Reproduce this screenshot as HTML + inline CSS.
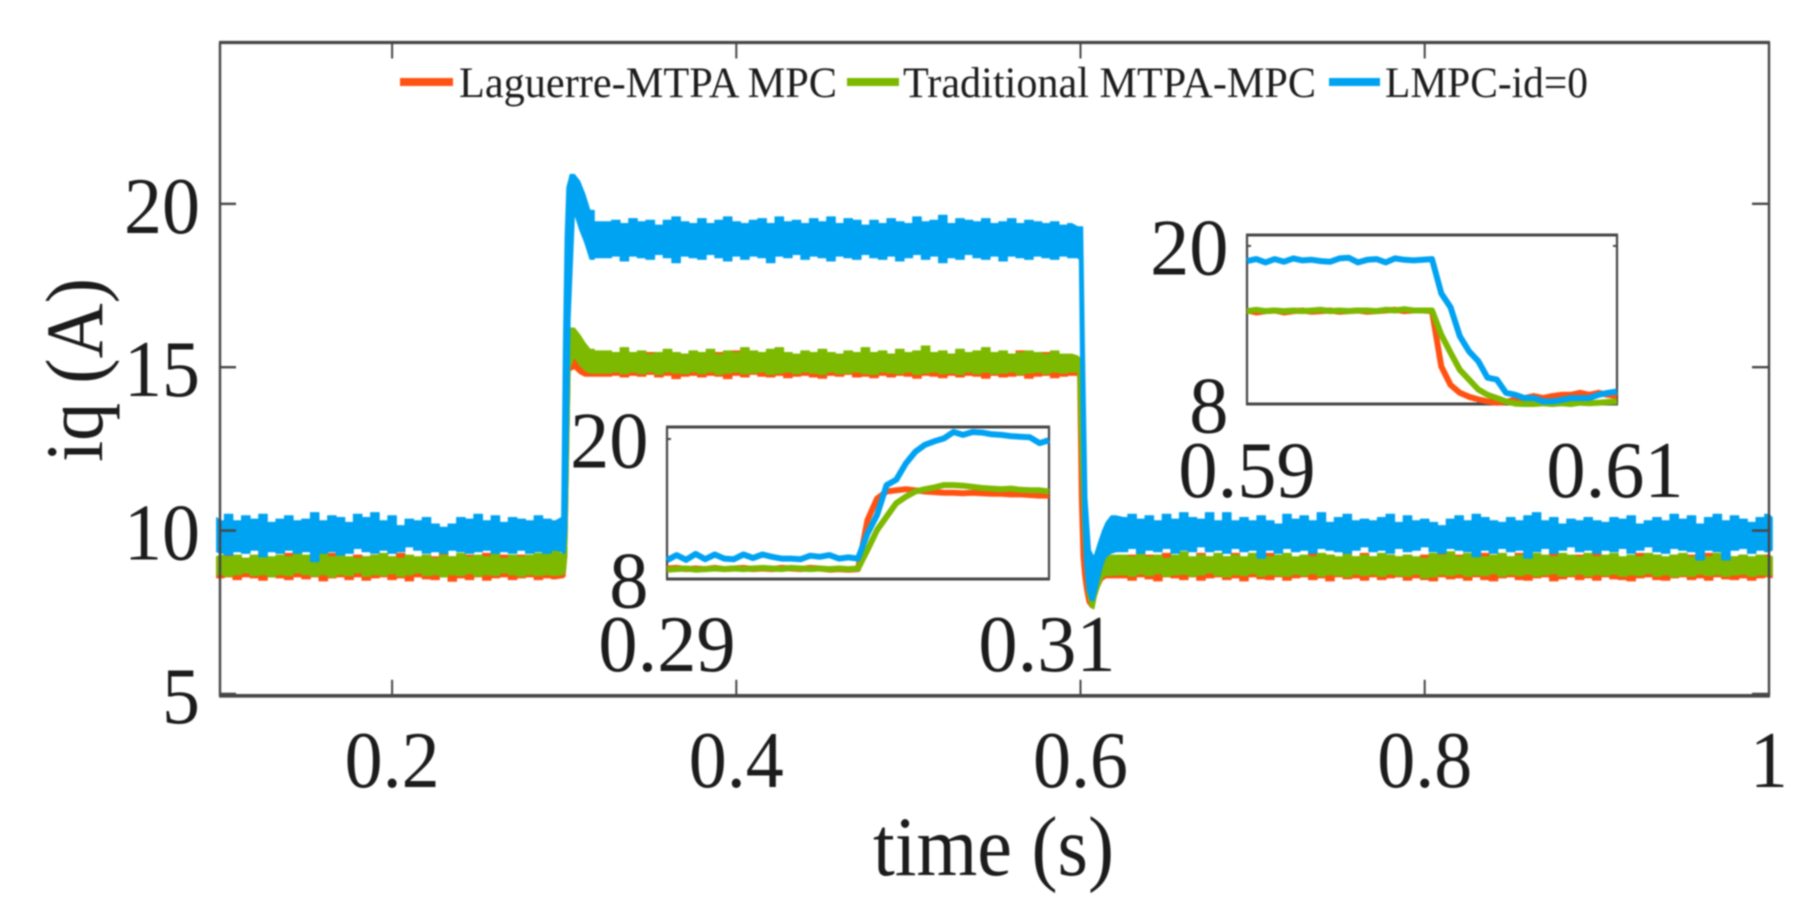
<!DOCTYPE html>
<html lang="en">
<head>
<meta charset="utf-8">
<title>iq current response chart</title>
<style>
html,body{margin:0;padding:0;background:#fff;width:1817px;height:920px;overflow:hidden}
svg{display:block;filter:blur(0.75px)}
text{font-family:"Liberation Serif","Times New Roman",serif;fill:#1c1c1c}
</style>
</head>
<body>
<svg id="chart" xmlns="http://www.w3.org/2000/svg" width="1817" height="920" viewBox="0 0 1817 920">
  <rect x="0" y="0" width="1817" height="920" fill="#fff"/>
  <g id="series-layer"></g>
  <g id="axes-layer"></g>
  <g id="inset-a"></g>
  <g id="inset-b"></g>
  <text transform="translate(102,462) rotate(-90)" font-size="82" textLength="184" lengthAdjust="spacingAndGlyphs">iq (A)</text>
  <text x="873" y="875" font-size="85" textLength="241" lengthAdjust="spacingAndGlyphs">time (s)</text>
  <g>
    <line x1="400" y1="82" x2="453" y2="82" stroke="#ff5212" stroke-width="8"/>
    <text x="459" y="97" font-size="43" textLength="378" lengthAdjust="spacingAndGlyphs">Laguerre-MTPA MPC</text>
    <line x1="847" y1="82" x2="899" y2="82" stroke="#7cb900" stroke-width="8"/>
    <text x="903" y="97" font-size="43" textLength="413" lengthAdjust="spacingAndGlyphs">Traditional MTPA-MPC</text>
    <line x1="1329" y1="82" x2="1380" y2="82" stroke="#00a2f2" stroke-width="8"/>
    <text x="1385" y="97" font-size="43" textLength="203" lengthAdjust="spacingAndGlyphs">LMPC-id=0</text>
  </g>
</svg>
<script>
const xTicks = [0.2, 0.4, 0.6, 0.8, 1];
const yTicks = [5, 10, 15, 20];
const xTickLabels = ['0.2', '0.4', '0.6', '0.8', '1'];
const yTickLabels = ['5', '10', '15', '20'];

const timeS = [
0.098,
.100,.105,.110,.115,.120,.125,.130,.135,.140,.145,
.150,.155,.160,.165,.170,.175,.180,.185,.190,.195,
.200,.205,.210,.215,.220,.225,.230,.235,.240,.245,
.250,.255,.260,.265,.270,.275,.280,.285,.290,.295,
.2985,.2995,.3005,.3015,.3035,.306,.309,.312,.315,.32,
.325,.330,.335,.340,.345,.350,.355,.360,.365,.370,.375,
.380,.385,.390,.395,.400,.405,.410,.415,.420,.425,.430,
.435,.440,.445,.450,.455,.460,.465,.470,.475,.480,.485,
.490,.495,.500,.505,.510,.515,.520,.525,.530,.535,.540,
.545,.550,.555,.560,.565,.570,.575,.580,.585,.590,.595,
.5983,.5993,.6003,.6013,.6023,.6038,.6058,.6078,.6093,.6108,.6128,.6148,.6178,.6208,
.625,.630,.635,.640,.645,.650,.655,.660,.665,.670,.675,
.680,.685,.690,.695,.700,.705,.710,.715,.720,.725,.730,
.735,.740,.745,.750,.755,.760,.765,.770,.775,.780,.785,
.790,.795,.800,.805,.810,.815,.820,.825,.830,.835,.840,
.845,.850,.855,.860,.865,.870,.875,.880,.885,.890,.895,
.900,.905,.910,.915,.920,.925,.930,.935,.940,.945,.950,
.955,.960,.965,.970,.975,.980,.985,.990,.995,1.0,1.002];

const blueHigh = [
10.4,
10.3,10.5,10.3,10.45,10.35,10.5,10.25,10.35,10.45,10.3,
10.35,10.55,10.3,10.45,10.4,10.25,10.5,10.4,10.55,10.3,
10.45,10.15,10.35,10.3,10.4,10.2,10.1,10.2,10.4,10.35,
10.5,10.3,10.45,10.25,10.4,10.35,10.3,10.45,10.35,10.3,
10.4,15.5,19,20.5,20.9,20.9,20.7,20.3,19.8,19.45,
19.45,19.5,19.4,19.55,19.45,19.5,19.35,19.5,19.6,19.45,19.4,
19.55,19.4,19.5,19.6,19.45,19.4,19.5,19.55,19.4,19.6,19.45,
19.5,19.4,19.55,19.45,19.6,19.4,19.55,19.5,19.35,19.5,19.4,
19.55,19.45,19.4,19.6,19.45,19.5,19.65,19.4,19.55,19.5,19.45,
19.55,19.4,19.45,19.55,19.4,19.5,19.45,19.4,19.45,19.35,19.4,
19.3,19.3,19.3,19.3,15.5,11,9.4,9.2,9.45,9.7,10,10.25,10.45,10.45,
10.4,10.5,10.35,10.45,10.3,10.5,10.35,10.55,10.4,10.35,10.55,
10.3,10.55,10.3,10.4,10.3,10.45,10.3,10.2,10.5,10.35,10.45,
10.3,10.55,10.25,10.4,10.5,10.3,10.35,10.3,10.4,10.5,10.25,
10.45,10.3,10.35,10.25,10.15,10.35,10.45,10.3,10.5,10.4,10.3,
10.25,10.4,10.3,10.45,10.55,10.3,10.4,10.2,10.35,10.3,10.4,
10.3,10.25,10.4,10.35,10.45,10.2,10.3,10.4,10.3,10.5,10.35,
10.45,10.2,10.4,10.5,10.3,10.45,10.35,10.25,10.4,10.5,10.4];

const blueLow = [
9.35,
9.3,9.25,9.35,9.3,9.4,9.2,9.35,9.3,9.4,9.3,
9.35,9.05,9.3,9.35,9.25,9.3,9.45,9.35,9.3,9.4,
9.3,9.35,9.5,9.4,9.3,9.35,9.3,9.4,9.35,9.3,
9.35,9.4,9.3,9.35,9.3,9.4,9.3,9.35,9.3,9.4,
9.35,9.3,9.3,10,16.5,19.7,19.2,18.8,18.3,18.35,
18.35,18.4,18.25,18.4,18.35,18.3,18.45,18.35,18.2,18.4,18.35,
18.3,18.45,18.35,18.25,18.4,18.3,18.4,18.35,18.2,18.4,18.35,
18.45,18.3,18.4,18.35,18.25,18.4,18.35,18.3,18.45,18.35,18.3,
18.4,18.25,18.35,18.45,18.3,18.4,18.2,18.35,18.3,18.45,18.35,
18.3,18.4,18.25,18.4,18.35,18.3,18.4,18.35,18.3,18.4,18.35,
18.35,18.3,14,10.5,9,8.2,7.85,7.85,8.15,8.5,8.9,9.2,9.3,9.35,
9.35,9.45,9.3,9.4,9.35,9.45,9.3,9.4,9.35,9.5,9.35,
9.4,9.3,9.45,9.35,9.4,9.15,9.4,9.3,9.45,9.35,9.4,
9.3,9.45,9.4,9.35,9.3,9.4,9.5,9.35,9.4,9.3,9.45,
9.35,9.4,9.5,9.35,9.3,9.45,9.4,9.35,9.2,9.4,9.3,
9.45,9.35,9.4,9.15,9.35,9.45,9.3,9.4,9.5,9.35,9.4,
9.3,9.4,9.35,9.45,9.3,9.4,9.5,9.35,9.3,9.45,9.4,
9.35,9.1,9.4,9.35,9.1,9.4,9.45,9.3,9.4,9.35,9.4];

const greenHigh = [
9.2,
9.25,9.2,9.25,9.15,9.25,9.3,9.2,9.25,9.2,9.3,
9.25,9.15,9.3,9.2,9.25,9.2,9.15,9.2,9.25,9.3,
9.2,9.15,9.25,9.2,9.25,9.15,9.25,9.2,9.3,9.2,
9.25,9.2,9.3,9.15,9.25,9.2,9.25,9.3,9.35,9.4,
9.3,9.3,9.5,10.5,16.2,16.2,16,15.75,15.55,15.5,
15.5,15.45,15.6,15.45,15.5,15.4,15.45,15.55,15.45,15.4,15.5,
15.45,15.55,15.4,15.5,15.45,15.6,15.5,15.45,15.55,15.6,15.45,
15.4,15.5,15.45,15.55,15.45,15.4,15.5,15.45,15.6,15.45,15.5,
15.4,15.55,15.45,15.5,15.65,15.45,15.5,15.4,15.55,15.45,15.5,
15.6,15.45,15.5,15.4,15.45,15.5,15.45,15.4,15.5,15.4,15.4,
15.35,15.3,15.2,14,12,10,9,8.9,8.85,8.9,9.1,9.2,9.25,9.25,
9.25,9.2,9.3,9.2,9.25,9.15,9.25,9.35,9.2,9.25,9.2,
9.3,9.2,9.25,9.2,9.3,9.25,9.2,9.25,9.3,9.2,9.25,
9.2,9.3,9.25,9.2,9.3,9.2,9.25,9.2,9.3,9.25,9.2,
9.25,9.2,9.15,9.3,9.25,9.35,9.2,9.3,9.25,9.2,9.25,
9.3,9.2,9.25,9.2,9.3,9.25,9.2,9.3,9.25,9.2,9.3,
9.2,9.25,9.3,9.2,9.25,9.2,9.3,9.25,9.2,9.25,9.3,
9.2,9.25,9.2,9.3,9.25,9.2,9.25,9.2,9.25,9.2,9.2];

const greenLow = [
8.65,
8.65,8.6,8.65,8.7,8.62,8.65,8.58,8.65,8.62,8.7,
8.65,8.6,8.65,8.58,8.65,8.62,8.7,8.6,8.65,8.62,
8.68,8.6,8.65,8.7,8.62,8.65,8.58,8.65,8.62,8.68,
8.6,8.65,8.62,8.7,8.65,8.6,8.65,8.62,8.65,8.62,
8.65,8.65,8.7,9.2,15,15.3,15.05,14.9,14.82,14.82,
14.82,14.85,14.8,14.85,14.8,14.85,14.78,14.85,14.82,14.8,14.85,
14.8,14.85,14.78,14.82,14.85,14.8,14.82,14.85,14.78,14.82,14.85,
14.8,14.85,14.82,14.78,14.85,14.8,14.82,14.85,14.8,14.78,14.85,
14.82,14.8,14.85,14.78,14.82,14.85,14.8,14.82,14.78,14.85,14.8,
14.85,14.8,14.82,14.85,14.78,14.82,14.85,14.8,14.85,14.82,14.85,
14.85,13,11.5,10,9,8.1,7.65,7.6,8,8.25,8.55,8.62,8.62,8.64,
8.64,8.6,8.66,8.62,8.68,8.6,8.64,8.66,8.6,8.64,8.7,
8.62,8.58,8.65,8.62,8.68,8.6,8.65,8.62,8.6,8.66,8.62,
8.68,8.6,8.65,8.62,8.58,8.66,8.62,8.65,8.6,8.66,8.62,
8.6,8.66,8.55,8.58,8.65,8.62,8.66,8.6,8.64,8.62,8.68,
8.6,8.65,8.62,8.66,8.6,8.64,8.68,8.6,8.62,8.66,8.6,
8.65,8.62,8.66,8.6,8.64,8.62,8.68,8.6,8.65,8.58,8.62,
8.6,8.66,8.62,8.65,8.6,8.64,8.66,8.6,8.64,8.62,8.65];

const orangeHigh = [
9.2,
9.2,9.25,9.2,9.15,9.2,9.25,9.15,9.2,9.3,9.2,
9.15,9.25,9.2,9.3,9.2,9.15,9.25,9.2,9.25,9.15,
9.2,9.3,9.2,9.15,9.25,9.2,9.3,9.2,9.15,9.25,
9.2,9.3,9.15,9.25,9.2,9.25,9.15,9.2,9.25,9.2,
9.2,9.2,9.4,10.4,15.4,15.6,15.4,15.4,15.4,15.4,
15.4,15.35,15.5,15.4,15.35,15.45,15.4,15.5,15.35,15.4,15.45,
15.4,15.35,15.45,15.4,15.5,15.35,15.45,15.4,15.35,15.45,15.4,
15.35,15.45,15.4,15.5,15.35,15.4,15.45,15.35,15.4,15.45,15.35,
15.4,15.5,15.35,15.45,15.4,15.35,15.45,15.4,15.5,15.35,15.45,
15.4,15.35,15.45,15.4,15.5,15.35,15.4,15.45,15.35,15.35,15.35,
15.3,15.2,14,12,10,9,8.8,8.7,8.7,8.8,9,9.15,9.2,9.2,
9.2,9.25,9.15,9.25,9.2,9.3,9.2,9.25,9.15,9.3,9.2,
9.25,9.2,9.3,9.15,9.25,9.2,9.3,9.2,9.25,9.15,9.2,
9.3,9.2,9.25,9.15,9.25,9.2,9.3,9.2,9.15,9.25,9.2,
9.25,9.15,9.25,9.2,9.3,9.2,9.25,9.15,9.2,9.3,9.2,
9.25,9.2,9.3,9.15,9.25,9.2,9.3,9.2,9.15,9.25,9.2,
9.3,9.2,9.25,9.15,9.2,9.3,9.2,9.25,9.15,9.25,9.2,
9.25,9.2,9.3,9.15,9.25,9.2,9.25,9.15,9.2,9.25,9.2];

const orangeLow = [
8.55,
8.55,8.58,8.5,8.58,8.55,8.48,8.58,8.55,8.5,8.58,
8.52,8.58,8.46,8.55,8.58,8.5,8.58,8.48,8.55,8.58,
8.5,8.55,8.46,8.58,8.52,8.5,8.58,8.45,8.55,8.5,
8.58,8.48,8.55,8.58,8.5,8.55,8.58,8.5,8.55,8.52,
8.55,8.55,8.6,9.2,14.9,14.95,14.8,14.72,14.72,14.72,
14.72,14.75,14.7,14.75,14.72,14.78,14.7,14.75,14.65,14.72,14.75,
14.7,14.75,14.72,14.65,14.75,14.7,14.78,14.72,14.7,14.75,14.68,
14.72,14.75,14.7,14.66,14.75,14.72,14.78,14.7,14.72,14.68,14.75,
14.7,14.75,14.72,14.66,14.75,14.72,14.68,14.75,14.7,14.75,14.72,
14.66,14.75,14.7,14.72,14.75,14.66,14.72,14.75,14.68,14.72,14.75,
14.75,11,9.2,8.6,8.2,7.8,7.65,7.7,8,8.25,8.48,8.55,8.55,8.55,
8.55,8.48,8.58,8.52,8.46,8.58,8.55,8.5,8.58,8.48,8.55,
8.58,8.5,8.55,8.46,8.58,8.52,8.5,8.58,8.48,8.55,8.58,
8.5,8.55,8.46,8.58,8.52,8.55,8.48,8.58,8.5,8.55,8.58,
8.48,8.55,8.5,8.46,8.58,8.52,8.55,8.48,8.58,8.5,8.46,
8.55,8.58,8.5,8.48,8.55,8.58,8.46,8.52,8.58,8.5,8.55,
8.48,8.58,8.52,8.5,8.46,8.55,8.58,8.5,8.48,8.55,8.58,
8.5,8.55,8.48,8.58,8.52,8.5,8.55,8.48,8.55,8.58,8.55];

/* Inset A: rising transient, 0.29 to 0.31 s */
const insetATimes = [
.2900,.2905,.2910,.2915,.2920,.2925,.2930,.2935,.2940,.2945,
.2950,.2955,.2960,.2965,.2970,.2975,.2980,.2985,.2990,.2995,
.3000,.3005,.3010,.3015,.3020,.3025,.3030,.3035,.3040,.3045,
.3050,.3055,.3060,.3065,.3070,.3075,.3080,.3085,.3090,.3095,.3100];
const insetAOrange = [
8.9,8.95,8.85,8.9,8.85,8.95,8.85,8.9,8.95,8.85,
8.9,8.85,8.95,8.9,8.85,8.95,8.9,8.8,8.85,8.8,
8.85,13.05,14.9,15.5,15.6,15.7,15.6,15.5,15.45,15.4,
15.4,15.35,15.4,15.35,15.3,15.3,15.25,15.25,15.2,15.15,15.15];
const insetAGreen = [
8.8,8.85,8.9,8.8,8.85,8.9,8.85,8.9,8.85,8.9,
8.95,8.9,8.85,8.95,8.9,8.85,8.9,8.85,8.9,8.85,
8.9,10.5,12.2,13.35,14.5,15.05,15.5,15.7,15.85,16.05,
16.05,16,15.9,15.8,15.75,15.7,15.75,15.65,15.6,15.6,15.5];
const insetABlue = [
9.6,10.05,9.65,10.15,9.7,10.1,9.75,9.7,10.1,9.8,
10.1,9.9,9.75,9.75,9.7,10,9.9,10.05,9.75,9.85,
9.75,11.9,13.5,16.05,16.5,17.9,18.9,19.5,19.8,20.05,
20.6,20.35,20.6,20.55,20.4,20.35,20.25,20.2,20.15,19.65,19.9];

/* Inset B: falling transient, 0.59 to 0.61 s */
const insetBTimes = [
.5900,.5905,.5910,.5915,.5920,.5925,.5930,.5935,.5940,.5945,
.5950,.5955,.5960,.5965,.5970,.5975,.5980,.5985,.5990,.5995,
.6000,.6005,.6010,.6015,.6020,.6025,.6030,.6035,.6040,.6045,
.6050,.6055,.6060,.6065,.6070,.6075,.6080,.6085,.6090,.6095,.6100];
const insetBOrange = [
15.1,14.95,15.05,15.1,14.95,15.05,15.1,15,15.05,15.1,
15,15.05,15.1,15,15.05,15.1,15.15,15.05,15.1,15.1,
15.05,10.85,9.45,8.85,8.55,8.35,8.2,8.1,8.15,8.35,
8.45,8.6,8.45,8.6,8.7,8.7,8.85,8.7,8.85,8.7,8.6];
const insetBGreen = [
15.05,15.15,15.05,15.1,15.05,15.1,15.05,15.1,15.15,15.05,
15.1,15.05,15.1,15.1,15.05,15.15,15.1,15.2,15.1,15.1,
15.1,13.25,11.9,10.6,9.85,9.1,8.7,8.45,8.2,8.03,
8,8,8.05,8,8.05,8,8.1,8.05,8.1,8.15,8.2];
const insetBBlue = [
18.85,19,18.75,19,18.8,19.05,18.9,18.95,18.85,18.8,
19.05,19.1,18.75,18.95,19,18.75,19.05,18.95,18.9,18.95,
19,16.4,15.35,13.15,12,11.25,10,9.85,8.85,8.7,
8.45,8.45,8.2,8.2,8.3,8.45,8.45,8.45,8.7,8.85,8.95];

const NS = 'http://www.w3.org/2000/svg';
const COLORS = {orange: '#ff5212', green: '#7cb900', blue: '#00a2f2'};
const frameColor = '#464646';

function make(parent, tag, attrs) {
  const el = document.createElementNS(NS, tag);
  for (const k in attrs) el.setAttribute(k, attrs[k]);
  parent.appendChild(el);
  return el;
}

/* main axes */
const xMain = t => 220 + (t - 0.1) * 1721;
const yMain = v => 693.9 - (v - 5) * 32.67;

/* one edge of a band: blocky steps on the steady grid, straight through the transients */
function edgePoints(values) {
  const pts = [];
  timeS.forEach((t, i) => {
    const y = yMain(values[i]).toFixed(1);
    const prev = i > 0 ? timeS[i - 1] : t;
    const next = i < timeS.length - 1 ? timeS[i + 1] : t;
    const left = t - prev >= 0.0045 ? xMain((t + prev) / 2) : xMain(t);
    const right = next - t >= 0.0045 ? xMain((t + next) / 2) : xMain(t);
    pts.push(left.toFixed(1) + ',' + y);
    if (right !== left) pts.push(right.toFixed(1) + ',' + y);
  });
  return pts;
}
function band(parent, name, hi, lo, color) {
  const el = make(parent, 'polygon', {points: edgePoints(hi).concat(edgePoints(lo).reverse()).join(' '), fill: color, stroke: color, 'stroke-width': 1, 'stroke-linejoin': 'round'});
  
  
}
const seriesLayer = document.getElementById('series-layer');
band(seriesLayer, 'series-laguerre-mtpa-mpc', orangeHigh, orangeLow, COLORS.orange);
band(seriesLayer, 'series-traditional-mtpa-mpc', greenHigh, greenLow, COLORS.green);
band(seriesLayer, 'series-lmpc-id0', blueHigh, blueLow, COLORS.blue);

const axes = document.getElementById('axes-layer');
const frameL = 220, frameR = 1769, frameT = 42.5, frameB = 695.8;

function rule(parent, name, x1, y1, x2, y2, w) {
  const el = make(parent, 'line', {x1: x1, y1: y1, x2: x2, y2: y2, stroke: frameColor, 'stroke-width': w});
  
  
}
rule(axes, 'axis-top-line', frameL - 1, frameT, frameR + 1, frameT, 3.2);
rule(axes, 'axis-bottom-line', frameL - 1, frameB, frameR + 1, frameB, 3.6);
rule(axes, 'axis-left-line', frameL, frameT, frameL, frameB, 2.4);
rule(axes, 'axis-right-line', frameR, frameT, frameR, frameB, 2.4);

xTicks.forEach((t, i) => {
  const x = xMain(t);
  if (t < 1) {
    rule(axes, 'x-tick-bottom', x, frameB, x, frameB - 16, 2);
    rule(axes, 'x-tick-top', x, frameT, x, frameT + 16, 2);
  }
  const label = make(axes, 'text', {transform: 'translate(' + x + ',787) scale(0.95,1)', 'text-anchor': 'middle', 'font-size': 80});
  
  
  label.textContent = xTickLabels[i];
});
yTicks.forEach((v, i) => {
  const y = yMain(v);
  rule(axes, 'y-tick-left', frameL, y, frameL + 16, y, 2.4);
  rule(axes, 'y-tick-right', frameR, y, frameR - 17, y, 2.4);
  const label = make(axes, 'text', {transform: 'translate(200,' + (y + 29) + ') scale(0.95,1)', 'text-anchor': 'end', 'font-size': 80});
  
  
  label.textContent = yTickLabels[i];
});

/* insets */
const insetYTicks = [8, 20];
const insetYLabels = ['8', '20'];

function drawInset(group, box, times, tMin, tMax, xLabels, orange, green, blue) {
  const xs = t => box.l + (t - tMin) / (tMax - tMin) * (box.r - box.l);
  const ys = v => box.b - (v - 8) * (box.b - box.t) / (box.top - 8);
  const pairs = [['inset-line-laguerre', orange, COLORS.orange], ['inset-line-traditional', green, COLORS.green], ['inset-line-lmpc', blue, COLORS.blue]];
  rule(group, 'inset-frame-top', box.l - 1, box.t, box.r + 1, box.t, 3);
  rule(group, 'inset-frame-bottom', box.l - 1, box.b, box.r + 1, box.b, 3);
  rule(group, 'inset-frame-left', box.l, box.t, box.l, box.b, 2.2);
  rule(group, 'inset-frame-right', box.r, box.t, box.r, box.b, 2.2);
  rule(group, 'inset-tick-20-left', box.l, ys(20), box.l + 4, ys(20), 2);
  rule(group, 'inset-tick-20-right', box.r, ys(20), box.r - 4, ys(20), 2);
  pairs.forEach(p => {
    const pts = times.map((t, i) => xs(t).toFixed(1) + ',' + ys(p[1][i]).toFixed(1)).join(' ');
    const line = make(group, 'polyline', {points: pts, fill: 'none', stroke: p[2], 'stroke-width': 6, 'stroke-linejoin': 'round'});
    
    
  });
  insetYTicks.forEach((v, i) => {
    const label = make(group, 'text', {transform: 'translate(' + (box.l - 18.5) + ',' + (ys(v) + 28.7) + ') scale(0.98,1)', 'text-anchor': 'end', 'font-size': 80});
    
    
    label.textContent = insetYLabels[i];
  });
  [tMin, tMax].forEach((t, i) => {
    const label = make(group, 'text', {transform: 'translate(' + (xs(t) + (i ? -2 : 0)) + ',' + box.labelY + ') scale(0.98,1)', 'text-anchor': 'middle', 'font-size': 80});
    
    
    label.textContent = xLabels[i];
  });
}
drawInset(document.getElementById('inset-a'), {l: 667, r: 1049, t: 427, b: 579, top: 21.03, labelY: 671},
  insetATimes, 0.29, 0.31, ['0.29', '0.31'], insetAOrange, insetAGreen, insetABlue);
drawInset(document.getElementById('inset-b'), {l: 1247, r: 1617, t: 235, b: 404, top: 20.83, labelY: 497},
  insetBTimes, 0.59, 0.61, ['0.59', '0.61'], insetBOrange, insetBGreen, insetBBlue);
</script>
</body>
</html>
